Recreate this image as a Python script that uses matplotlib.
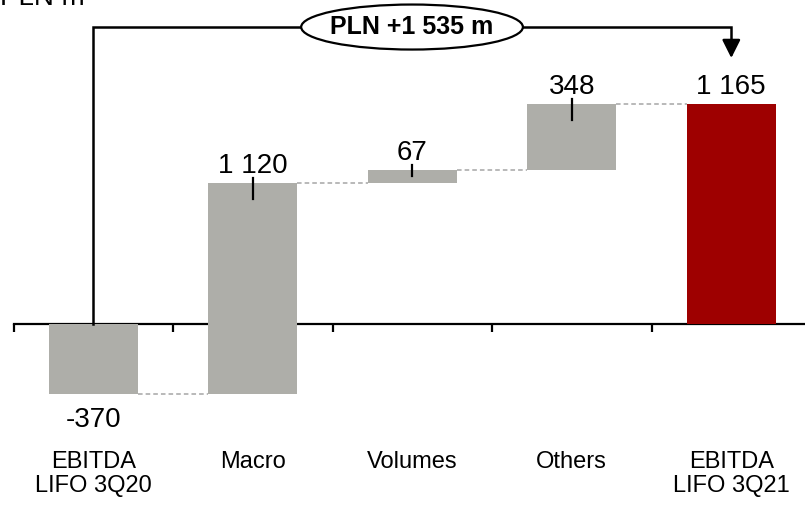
import matplotlib
matplotlib.use("Agg")
import matplotlib.pyplot as plt
from matplotlib.patches import Ellipse

# EBITDA LIFO bridge, PLN m
categories = ["EBITDA\nLIFO 3Q20", "Macro", "Volumes", "Others", "EBITDA\nLIFO 3Q21"]
values = [-370, 1120, 67, 348, 1165]
is_total = [True, False, False, False, True]
value_labels = ["-370", "1 120", "67", "348", "1 165"]
change_label = "PLN +1 535 m"
unit_label = "PLN m"

GREY = "#AEAEA9"
RED = "#9E0000"
FONT = ["Liberation Sans", "DejaVu Sans"]

fig = plt.figure(figsize=(8.05, 5.05), dpi=100)
ax = fig.add_axes([13.5 / 805, 0, 1 - 13.5 / 805, 1])
ax.set_xlim(-0.5, 4.462)
ax.set_ylim(-960, 1719)
px = (1719 + 960) / 505.0  # data units per pixel, vertically

for s in ["top", "right", "left"]:
    ax.spines[s].set_visible(False)
ax.spines["bottom"].set_position(("data", 0))
ax.spines["bottom"].set_linewidth(1.6)
ax.spines["bottom"].set_zorder(1)
ax.set_xticks([i - 0.5 for i in range(len(categories))])
ax.set_xticklabels([])
ax.tick_params(axis="x", direction="out", length=6, width=1.6)
ax.set_yticks([])

# running totals for the floating bars
bottoms, tops = [], []
running = 0
for v, tot in zip(values, is_total):
    if tot:
        b, t = min(0, v), max(0, v)
        running = v
    else:
        b, t = running, running + v
        running += v
    bottoms.append(b)
    tops.append(t)

colors = [GREY] * (len(values) - 1) + [RED]
heights = [t - b for b, t in zip(bottoms, tops)]
ax.bar(range(len(values)), heights, bottom=bottoms, width=0.56,
       color=colors, zorder=2)

# dashed connectors between consecutive bars
level = values[0]
for i in range(len(values) - 1):
    ax.plot([i + 0.28, i + 1 - 0.28], [level, level], color="#A5A5A5",
            lw=1.1, ls=(0, (3, 2)), zorder=1)
    if not is_total[i + 1]:
        level += values[i + 1]

# value labels and small marker lines
for i, v in enumerate(values):
    if v >= 0:
        top = tops[i]
        if i != len(values) - 1:
            low = max(top - 16 * px, (tops[i] + bottoms[i]) / 2)
            ax.plot([i, i], [top + 5 * px, low], color="black", lw=1.6, zorder=3)
        ax.text(i, top + 10 * px, value_labels[i], ha="center", va="baseline",
                fontsize=20, family=FONT)
    else:
        ax.text(i, bottoms[i] - 13 * px, value_labels[i], ha="center", va="top",
                fontsize=20, family=FONT)

# category labels under the axis
for i, c in enumerate(categories):
    ax.text(i, -127 * px, c, ha="center", va="top", fontsize=17,
            family=FONT, linespacing=1.1)

# bracket showing the total change
yb = 297 * px
ax.plot([0, 0, 4, 4], [0, yb, yb, yb - 15 * px], color="black", lw=1.8,
        zorder=3, solid_joinstyle="miter")
ax.annotate("", xy=(4, yb - 31 * px), xytext=(4, yb - 13 * px),
            arrowprops=dict(arrowstyle="-|>,head_width=0.55,head_length=1.1",
                            color="black", lw=1.8, shrinkA=0, shrinkB=0))
xe = (412 - 13.5) / 159.5 - 0.5
ax.add_patch(Ellipse((xe, yb), 1.39, 45 * px, facecolor="white",
                     edgecolor="black", lw=1.6, zorder=4))
ax.text(xe, yb, change_label, ha="center", va="center", fontsize=18,
        fontweight="bold", family=FONT, zorder=5)

fig.text(0.0, 1 - 5 / 505, unit_label, ha="left", va="baseline", fontsize=20,
         family=FONT)

fig.savefig("out.png", dpi=100)
